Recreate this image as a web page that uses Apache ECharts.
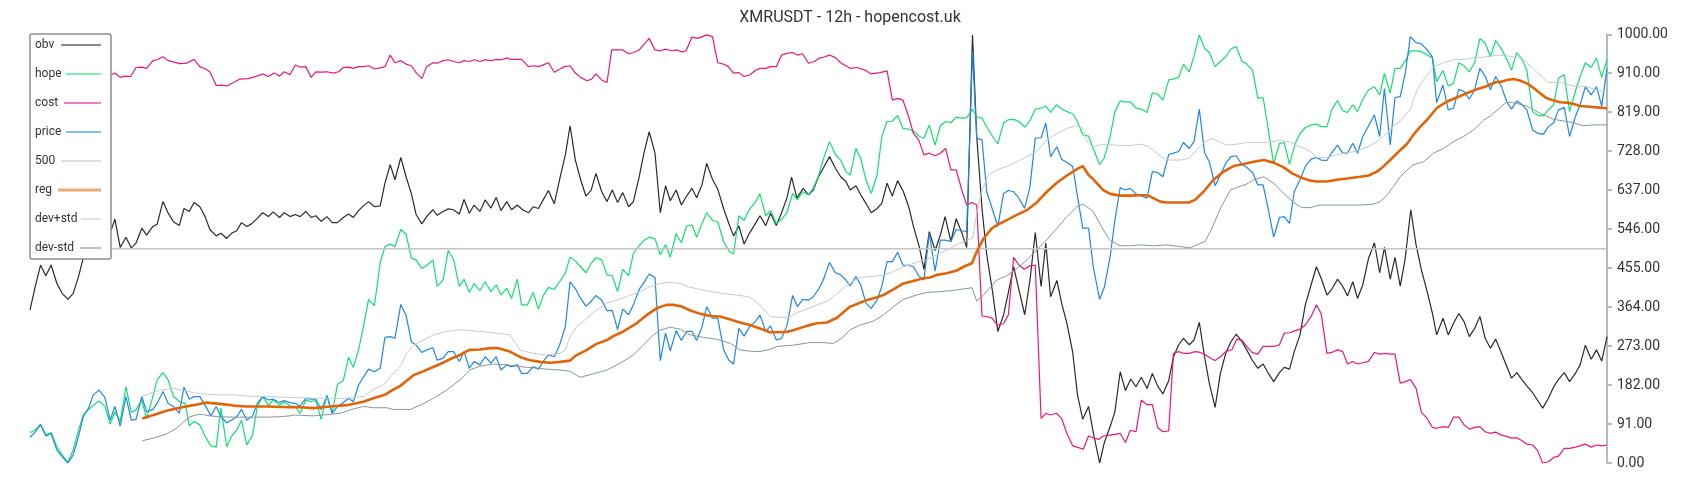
<!DOCTYPE html>
<html>
<head>
<meta charset="utf-8">
<title>XMRUSDT - 12h</title>
<script src="https://cdn.jsdelivr.net/npm/echarts@6.0.0/dist/echarts.min.js"></script>
<style>
  html, body { margin: 0; padding: 0; background: #fff; }
  #main { width: 1700px; height: 500px; }
</style>
</head>
<body>
<div id="main"></div>
<script>
// every series is scaled 0..1000, x is the candle index (0..299)
var obv = [[0,357],[1,412],[2,462],[3,437],[4,462],[5.1,419],[6.1,396],[7.2,382],[8.2,396],[9.2,435],[10,474],[15.4,544],[16.1,569],[17.1,503],[18.2,527],[19.2,502],[20.1,513],[21.2,548],[22.1,532],[23.3,552],[24.1,557],[25.2,610],[26.2,583],[27.2,563],[28.3,554],[29.2,594],[30.2,587],[31.1,608],[32.2,598],[33.2,575],[34.1,545],[35.3,530],[36.2,536],[37.3,524],[38.2,536],[39.2,542],[40.1,561],[41.1,552],[42,558],[43.1,571],[44.1,584],[45.2,575],[46.1,586],[47.3,573],[48.2,584],[49.3,575],[50.3,580],[51.2,575],[52.3,587],[53.3,573],[54.2,577],[55.2,564],[56.3,575],[57.3,561],[58.3,561],[59.4,573],[60.4,581],[61.3,573],[62.3,589],[63.2,600],[64.2,610],[65.3,598],[66.4,600],[67.3,653],[68.3,696],[69.2,661],[70.3,713],[71.3,668],[72.3,629],[73.2,580],[74.3,558],[75.2,575],[76.4,591],[77.2,578],[78.3,587],[79.3,593],[80.3,591],[81.4,581],[82.3,615],[83.3,583],[84.2,602],[85.3,587],[86.3,614],[87.4,595],[88.4,620],[89.3,589],[90.4,610],[91.3,591],[92.4,602],[93.4,591],[94.5,584],[95.4,598],[96.4,594],[97.3,614],[98.3,636],[99.4,605],[100.4,661],[101.5,719],[102.4,787],[103.4,707],[104.4,661],[105.4,623],[106.4,637],[107.3,676],[108.4,633],[109.4,610],[110.4,637],[111.4,608],[112.4,631],[113.5,598],[114.4,610],[115.5,668],[116.4,723],[117.4,773],[118.5,723],[119.5,584],[120.5,647],[121.4,612],[122.5,637],[123.5,602],[124.5,623],[125.5,641],[126.4,619],[127.4,649],[128.3,699],[129.4,662],[130.4,639],[131.5,594],[132.5,559],[133.4,530],[134.4,553],[135.4,511],[136.4,536],[137.5,558],[138.4,577],[139.5,554],[140.4,583],[141.5,554],[142.5,584],[143.5,618],[144.4,667],[145.4,618],[146.6,641],[147.6,626],[148.5,637],[149.5,668],[150.4,688],[151.6,715],[152.7,688],[153.7,668],[154.7,657],[155.5,637],[156.6,647],[157.5,626],[158.5,606],[159.5,584],[160.6,594],[161.5,606],[162.5,653],[163.5,623],[164.5,659],[165.6,633],[166.6,598],[167.5,552],[168.6,505],[169.5,452],[170.5,540],[171.6,496],[172.6,532],[173.5,575],[174.6,517],[175.6,570],[176.7,536],[177.6,503],[178.7,999],[179.5,762],[180.5,594],[181.4,486],[182.5,400],[183.5,307],[184.6,346],[185.5,398],[186.5,458],[187.5,404],[188.6,346],[189.6,427],[190.6,538],[191.7,412],[192.6,513],[193.5,388],[194.7,426],[195.6,373],[196.6,326],[197.7,258],[198.6,159],[199.6,102],[200.7,132],[201.6,71],[202.8,0],[203.7,48],[204.8,85],[205.7,120],[206.7,213],[207.7,169],[208.7,196],[209.7,178],[210.7,200],[211.8,174],[212.8,209],[213.8,180],[214.8,161],[215.9,192],[216.8,248],[217.8,276],[218.7,291],[219.8,276],[220.7,287],[221.7,328],[222.7,248],[223.6,186],[224.7,130],[225.7,209],[226.7,256],[227.7,283],[228.7,301],[229.8,283],[230.7,264],[231.7,241],[232.8,221],[233.8,231],[234.8,209],[235.8,190],[236.9,211],[237.8,223],[238.8,219],[239.7,260],[240.8,299],[241.8,369],[242.9,416],[243.9,458],[244.8,431],[245.9,392],[246.8,405],[247.9,429],[248.9,412],[249.8,390],[250.8,423],[251.7,384],[252.7,416],[253.8,478],[254.9,514],[255.9,444],[256.8,503],[257.9,429],[258.8,480],[259.8,413],[260.7,474],[261.8,591],[262.8,509],[263.8,451],[264.9,400],[265.9,349],[266.7,299],[267.9,338],[268.9,299],[269.9,326],[270.9,349],[271.9,330],[272.9,295],[273.9,314],[274.9,342],[275.9,291],[276.9,268],[277.9,289],[279,256],[280,225],[280.9,198],[281.9,211],[282.9,194],[283.8,180],[284.9,164],[285.8,147],[286.8,128],[287.9,151],[288.9,178],[289.8,195],[290.9,211],[291.9,190],[293,209],[293.9,229],[294.9,275],[296,242],[297,264],[298,238],[299,295]];

var hope = [[0,71],[0.9,76],[2,90],[3,66],[4,71],[5.1,38],[6.1,19],[7.2,1],[8.2,31],[9.2,76],[10.1,112],[11.1,125],[12,135],[13.1,145],[14.2,132],[15.2,91],[16.1,120],[17.1,97],[18.2,178],[19.2,118],[20.1,124],[21.2,147],[22.1,104],[23.3,155],[24.1,194],[25.2,211],[26.2,194],[27.2,155],[28.4,143],[29.4,139],[30.2,87],[31.1,97],[32.2,89],[33.2,62],[34.3,40],[35.3,37],[36.2,128],[37.3,38],[38.2,62],[39.2,77],[40.1,100],[41.1,42],[42.2,65],[43.1,132],[44.1,155],[45.2,135],[46.1,147],[47.3,135],[48.2,143],[49.3,133],[50.3,132],[51.2,116],[52.3,147],[53.3,143],[54.2,146],[55.2,102],[56.3,159],[57.3,116],[58.3,184],[59.4,192],[60.4,247],[61.3,223],[62.3,264],[63.2,318],[64.2,382],[65.3,367],[66.4,468],[67.3,505],[68.3,511],[69.2,505],[70.3,545],[71.3,534],[72.3,478],[73.2,474],[74.3,454],[75.2,461],[76.4,474],[77.2,412],[78.3,427],[79.3,496],[80.3,475],[81.4,412],[82.3,429],[83.3,398],[84.2,419],[85.3,402],[86.3,423],[87.4,400],[88.4,416],[89.3,392],[90.4,408],[91.3,384],[92.4,429],[93.2,369],[94.3,369],[95.4,398],[96.4,359],[97.3,390],[98.3,410],[99.4,405],[100.4,423],[101.5,443],[102.4,481],[103.5,470],[104.4,458],[105.4,444],[106.4,466],[107.3,479],[108.4,474],[109.4,439],[110.4,437],[111.4,400],[112.4,452],[113.5,437],[114.4,489],[115.5,507],[116.4,519],[117.4,527],[118.5,523],[119.5,486],[120.5,510],[121.4,480],[122.5,535],[123.5,514],[124.5,553],[125.5,556],[126.4,527],[127.4,558],[128.3,584],[129.4,566],[130.4,563],[131.5,517],[132.5,495],[133.4,488],[134.4,577],[135.4,566],[136.4,592],[137.5,608],[138.4,628],[139.5,577],[140.4,589],[141.5,559],[142.5,569],[143.5,584],[144.6,629],[145.5,614],[146.5,633],[147.6,626],[148.5,641],[149.5,670],[150.4,709],[151.6,750],[152.7,720],[153.7,707],[154.7,680],[155.5,672],[156.6,734],[157.5,711],[158.5,661],[159.5,629],[160.6,672],[161.5,762],[162.5,797],[163.5,798],[164.5,811],[165.5,781],[166.6,779],[167.5,775],[168.6,762],[169.5,758],[170.5,789],[171.6,742],[172.6,787],[173.6,797],[174.6,794],[175.6,807],[176.7,805],[177.6,806],[178.7,826],[179.5,808],[180.5,805],[181.4,784],[182.5,762],[183.5,745],[184.6,794],[185.5,801],[186.5,802],[187.5,797],[188.6,784],[189.6,799],[190.6,826],[191.7,828],[192.6,833],[193.5,818],[194.6,836],[195.6,826],[196.6,820],[197.7,815],[198.6,797],[199.6,766],[200.7,763],[201.6,734],[202.8,696],[203.7,713],[204.8,762],[205.7,820],[206.7,845],[207.7,842],[208.6,843],[209.7,828],[210.7,826],[211.8,818],[212.8,864],[213.8,861],[214.8,847],[215.9,894],[216.8,896],[217.8,900],[218.7,931],[219.8,913],[220.7,950],[221.7,999],[222.7,968],[223.6,958],[224.7,925],[225.7,937],[226.7,948],[227.7,966],[228.7,972],[229.8,937],[230.7,931],[231.8,917],[232.8,851],[233.8,853],[234.8,777],[235.8,698],[236.9,746],[237.8,748],[238.8,697],[239.9,746],[240.8,769],[241.8,783],[242.9,789],[243.9,791],[244.8,785],[245.9,785],[246.8,824],[247.9,846],[248.9,822],[249.8,818],[250.8,836],[251.7,820],[252.7,849],[253.8,871],[254.9,878],[255.9,859],[256.8,909],[257.9,863],[258.8,921],[259.8,921],[260.8,939],[261.7,962],[262.8,962],[263.8,960],[264.9,952],[265.9,945],[266.7,890],[267.9,916],[268.9,880],[269.9,886],[270.9,934],[271.9,927],[272.9,913],[273.9,934],[274.9,991],[275.9,980],[276.9,948],[277.9,986],[279,966],[280,942],[280.9,917],[281.9,958],[282.9,942],[283.8,917],[284.9,820],[285.8,812],[286.9,810],[287.9,824],[288.9,836],[289.8,898],[290.9,906],[291.9,820],[293,867],[293.9,902],[294.9,934],[296,923],[297,945],[298,900],[299,941]];

var cost = [[0,895],[5,905],[10,900],[15.4,906],[16.1,910],[17.1,900],[18,903],[19.1,902],[20.1,923],[21.2,924],[22.1,921],[23.3,939],[24.1,941],[25.2,948],[26.2,939],[27.2,936],[28.4,932],[29.7,933],[31.1,942],[32.2,925],[33.2,920],[34.1,913],[35.3,881],[36.2,882],[37.3,880],[38.6,888],[39.8,896],[41.4,897],[43,903],[44.2,908],[45.2,902],[46.3,910],[47.3,903],[48.2,913],[49.3,906],[50.3,929],[51.2,924],[52.3,925],[53.3,900],[54.2,913],[55.3,912],[56.3,913],[57.5,910],[58.5,913],[59.4,923],[60.4,924],[61.3,921],[62.3,925],[63.2,925],[64.2,927],[65.3,920],[66.4,922],[67.3,925],[68.3,952],[69.2,934],[70.3,939],[71.3,931],[72.3,927],[73.2,911],[74.3,897],[75.2,925],[76.4,934],[77.2,933],[78.3,939],[79.3,941],[80.3,937],[81.4,934],[82.3,939],[83.3,937],[84.2,941],[85.3,937],[86.3,941],[87.4,939],[88.4,942],[89.3,941],[90.4,945],[91.3,942],[92.4,942],[93.2,942],[94.5,925],[95.4,927],[96.4,925],[97.3,929],[98.3,934],[99.4,912],[100.4,919],[101.3,925],[102.4,927],[103.4,910],[104.4,900],[105.6,892],[106.5,896],[107.3,908],[108.4,894],[109.4,888],[110.3,964],[111.3,964],[112.4,964],[113.5,955],[114.4,958],[115.5,964],[117.4,991],[118.5,964],[119.5,962],[120.5,966],[121.7,962],[122.6,964],[123.6,959],[124.4,962],[125.5,994],[126.6,991],[128.3,999],[129.4,995],[130.4,934],[131.5,931],[132.4,925],[133.4,910],[134.4,911],[135.4,902],[136.5,906],[137.5,916],[138.4,921],[139.5,921],[140.4,925],[141.5,925],[142.5,952],[143.5,956],[144.6,958],[145.5,952],[146.5,955],[147.6,933],[148.7,937],[149.7,945],[150.4,947],[151.6,952],[152.7,946],[153.7,934],[155.5,921],[156.8,923],[158.3,917],[159.5,908],[161.2,911],[162.5,915],[163.5,847],[164.5,851],[165.5,847],[166.6,808],[167.5,769],[168.5,754],[169.5,719],[170.5,723],[171.6,717],[172.6,723],[173.6,734],[174.6,684],[175.6,684],[176.7,636],[177.6,602],[178.6,608],[179.5,602],[180.5,343],[181.4,342],[182.4,338],[183.4,322],[184.6,325],[185.5,346],[186.5,480],[187.5,462],[188.5,452],[189.6,460],[190.6,462],[191.7,104],[192.6,116],[193.5,112],[194.6,116],[195.6,104],[196.6,69],[197.7,40],[198.8,36],[199.7,32],[200.7,63],[201.6,59],[202.6,55],[203.5,63],[204.7,65],[205.7,67],[206.7,69],[207.7,48],[208.6,76],[209.7,73],[210.7,147],[211.8,136],[212.8,136],[213.8,83],[214.8,73],[215.9,75],[216.8,256],[217.8,260],[218.7,256],[219.8,256],[220.9,260],[221.9,258],[222.9,252],[223.9,244],[224.7,239],[225.7,248],[226.7,260],[227.9,265],[228.8,289],[229.8,286],[230.7,272],[231.7,258],[232.8,254],[233.8,272],[234.8,272],[235.9,272],[236.9,276],[237.8,303],[238.8,304],[239.9,309],[240.8,312],[241.8,322],[242.9,342],[243.9,369],[244.8,349],[245.9,256],[246.8,258],[247.9,264],[248.9,260],[249.8,231],[250.8,237],[251.7,231],[252.7,234],[253.8,237],[254.9,258],[255.9,254],[257,256],[257.9,254],[258.8,254],[259.8,186],[260.8,190],[261.7,195],[262.8,174],[263.8,118],[264.9,104],[265.9,83],[266.7,81],[267.9,85],[268.9,83],[269.9,107],[270.9,107],[271.9,89],[272.9,79],[273.9,83],[274.9,85],[275.9,73],[276.9,69],[277.9,72],[279,65],[280,62],[280.9,58],[281.9,59],[282.9,52],[283.8,44],[284.9,42],[285.8,30],[286.8,0],[287.9,3],[288.9,13],[289.8,16],[290.9,34],[291.9,34],[293,37],[293.9,40],[294.9,44],[296,37],[297,42],[298,40],[299,42]];

var price = [[0,60],[0.9,71],[2,90],[3,63],[4,69],[5.1,30],[6.1,15],[7.2,0],[8.2,19],[9.2,62],[10.1,108],[11.1,128],[12,159],[13.1,170],[14.2,153],[15.2,100],[16.1,132],[17.1,86],[18.2,155],[19.2,100],[20.1,102],[21.2,155],[22.1,120],[23.3,125],[24.1,139],[25.2,167],[26.2,139],[27.2,132],[28.3,116],[29.2,177],[30.2,149],[31.1,155],[32.2,155],[33.2,135],[34.3,110],[35.3,132],[36.2,108],[37.3,94],[38.2,100],[39.2,108],[40.1,125],[41.1,100],[42.2,110],[43.1,139],[44.1,155],[45.2,147],[46.1,149],[47.3,141],[48.2,146],[49.3,141],[50.3,139],[51.2,133],[52.3,151],[53.3,149],[54.2,149],[55.2,125],[56.3,155],[57.3,116],[58.3,132],[59.4,141],[60.4,151],[61.3,143],[62.3,182],[63.2,200],[64.2,219],[65.3,213],[66.4,221],[67.3,293],[68.3,295],[69.2,291],[70.3,370],[71.3,345],[72.3,283],[73.2,275],[74.3,258],[75.2,264],[76.4,269],[77.2,240],[78.3,244],[79.3,260],[80.3,260],[81.4,237],[82.3,260],[83.3,221],[84.2,237],[85.3,229],[86.3,248],[87.4,233],[88.4,248],[89.3,217],[90.4,229],[91.3,225],[92.4,229],[93.2,209],[94.3,209],[95.4,225],[96.4,219],[97.3,237],[98.3,252],[99.4,248],[100.4,275],[101.5,318],[102.4,423],[103.5,405],[104.4,384],[105.4,366],[106.4,377],[107.3,391],[108.4,380],[109.4,355],[110.4,356],[111.4,312],[112.4,359],[113.5,346],[114.4,369],[115.5,405],[116.4,421],[117.4,441],[118.5,433],[119.5,239],[120.5,303],[121.4,262],[122.5,309],[123.5,286],[124.5,307],[125.5,307],[126.4,286],[127.4,317],[128.3,365],[129.4,338],[130.4,338],[131.5,265],[132.5,240],[133.4,231],[134.4,314],[135.4,296],[136.4,317],[137.5,330],[138.4,345],[139.5,307],[140.4,320],[141.5,287],[142.5,291],[143.5,320],[144.6,391],[145.5,365],[146.5,382],[147.6,380],[148.5,388],[149.5,405],[150.4,427],[151.6,468],[152.7,444],[153.7,439],[154.7,427],[155.5,413],[156.6,435],[157.5,416],[158.5,373],[159.5,361],[160.6,380],[161.5,412],[162.5,470],[163.5,470],[164.5,492],[165.5,462],[166.6,461],[167.5,458],[168.6,435],[169.5,427],[170.5,536],[171.6,448],[172.6,520],[173.5,520],[174.6,517],[175.6,545],[176.7,542],[177.6,540],[178.7,960],[179.5,758],[180.5,754],[181.4,633],[182.5,591],[183.5,552],[184.6,629],[185.5,636],[186.5,633],[187.5,618],[188.6,594],[189.6,645],[190.6,758],[191.7,759],[192.6,793],[193.5,715],[194.7,738],[195.6,709],[196.6,701],[197.7,692],[198.6,623],[199.6,548],[200.7,548],[201.6,458],[202.8,382],[203.7,410],[204.8,482],[205.7,567],[206.7,643],[207.7,637],[208.6,641],[209.7,628],[210.7,623],[211.8,618],[212.8,680],[213.8,678],[214.8,668],[215.9,720],[216.8,723],[217.8,727],[218.7,748],[219.8,734],[220.7,750],[221.7,826],[222.7,724],[223.6,703],[224.7,647],[225.7,672],[226.7,699],[227.7,715],[228.7,717],[229.8,696],[230.7,690],[231.8,678],[232.8,649],[233.8,649],[234.8,591],[235.8,527],[236.9,573],[237.8,575],[238.8,559],[239.7,633],[240.8,661],[241.8,692],[242.9,709],[243.9,713],[244.8,707],[245.9,706],[246.8,724],[247.9,742],[248.9,723],[249.8,723],[250.8,746],[251.7,723],[252.7,762],[253.8,787],[254.9,812],[255.9,762],[256.8,874],[257.9,742],[258.8,853],[259.8,855],[260.8,913],[261.7,995],[262.8,981],[263.8,978],[264.9,964],[265.9,947],[266.7,841],[267.9,882],[268.9,824],[269.9,828],[270.9,872],[271.9,867],[272.9,849],[273.9,871],[274.9,921],[275.9,903],[276.9,871],[277.9,902],[279,878],[280,843],[280.9,826],[281.9,845],[282.9,836],[283.8,824],[284.9,777],[285.8,770],[286.9,767],[287.9,785],[288.9,794],[289.8,824],[290.9,830],[291.9,762],[293,808],[293.9,836],[294.9,878],[296,859],[297,878],[298,833],[299,921]];

var level = [[0,500],[299,500]];

var reg = [[21.3,104],[23.4,112],[25.9,122],[28.4,129],[31,135],[33.5,141],[36,138],[38.6,134],[41.1,132],[44.9,132],[49.3,130],[51.2,130],[53.7,128],[56.9,132],[60.1,135],[63.2,143],[65.1,151],[67.3,159],[68.3,167],[70.2,180],[71.4,192],[72.7,205],[74,211],[75.9,221],[77.8,231],[79.6,242],[81.5,252],[83.3,264],[85.3,265],[87.2,268],[88.8,268],[91,260],[93,247],[94.8,240],[96.7,236],[98.6,234],[100.5,236],[102.4,239],[103.4,250],[105.6,264],[107.4,278],[109.4,287],[110.6,296],[112.5,307],[115,326],[116.9,345],[118.8,361],[120.7,369],[122,369],[123.6,365],[125.2,356],[127.1,348],[129,343],[130.8,342],[132.8,335],[134.6,328],[136.5,322],[138.4,314],[140.3,305],[141.6,305],[143.5,306],[144.7,310],[147.3,320],[149.2,326],[151.1,328],[153,339],[155.5,365],[156.8,371],[158.6,380],[160.6,387],[161.8,392],[163.7,405],[165.6,419],[167.5,425],[169.4,431],[170.7,433],[171.9,439],[173.8,443],[175.7,449],[177,458],[178.6,466],[179.5,493],[180.8,524],[182.4,548],[183.9,559],[185.2,567],[187.1,579],[189,590],[190.9,608],[192.8,633],[194.7,654],[196.6,671],[198.5,686],[199.6,693],[200.7,672],[201.6,662],[203.5,637],[204.8,628],[206.7,624],[208.6,624],[210.5,625],[211.8,625],[213,618],[214.3,610],[215.5,608],[217.4,608],[219.7,608],[220.9,614],[222.5,633],[224.4,661],[226.3,680],[228.2,693],[230.1,698],[232,703],[233.9,707],[235.8,701],[237.7,690],[239.3,676],[240.8,667],[242.7,659],[244,657],[245.9,657],[247.8,661],[249.7,664],[252.2,668],[253.8,671],[255.4,680],[256.6,692],[257.9,707],[259.8,730],[261.1,745],[262.3,766],[263.6,785],[264.9,801],[266.7,828],[268.6,843],[270.5,853],[272.4,863],[274.3,872],[275.9,878],[277.2,885],[278.1,889],[279.1,890],[280,894],[281.3,896],[282.6,892],[283.8,886],[285.1,875],[286.3,863],[287.6,851],[288.9,846],[290.1,842],[291.4,841],[292.7,838],[293.9,833],[295.2,832],[297.1,830],[299,828]];

var devUp = [[21.3,156],[22.8,163],[24.7,170],[27.2,174],[29.1,170],[31,164],[32.9,161],[35.4,159],[38.6,159],[41.7,156],[44.9,155],[49.3,153],[53.7,151],[57.5,151],[60.1,151],[63.2,155],[65.1,172],[67,182],[68.9,209],[70.2,225],[71.4,256],[72.7,275],[74.6,287],[76.5,299],[79,307],[81.5,311],[85.3,307],[88.5,303],[91,299],[92.9,264],[95.4,256],[97.9,252],[100.5,256],[101.5,264],[102.4,295],[103.7,318],[105.6,338],[107.4,357],[109.4,373],[111.2,380],[113.1,388],[115.7,400],[117.6,412],[119.5,419],[121.4,422],[123.3,419],[124.5,412],[127.1,405],[129.6,399],[132.2,394],[134.6,391],[136.5,387],[138.4,369],[140.3,342],[142.2,340],[144.1,340],[145.4,351],[147.3,359],[149.2,369],[151.1,377],[152.3,388],[154.2,408],[155.5,421],[157.4,433],[159.9,436],[161.8,438],[163.7,447],[165.6,458],[168.1,468],[170,474],[171.9,486],[173.8,497],[175.7,509],[177.6,520],[178.7,524],[179.5,583],[180.5,637],[181.7,672],[183.3,684],[185.2,692],[187.1,703],[189,715],[190.9,727],[192.8,754],[194.7,769],[196.6,781],[198.5,787],[199.4,785],[200.4,750],[201.6,738],[203.5,744],[206.7,741],[208.6,741],[210.5,744],[211.8,740],[213,730],[214.6,713],[216.2,707],[218.1,707],[219.7,711],[221.2,730],[222.8,750],[224.1,758],[225.7,748],[226.9,742],[228.8,744],[230.7,748],[235.1,748],[237,754],[238.9,749],[240.8,738],[242.7,728],[244,713],[245.9,713],[247.8,719],[249.7,724],[251.6,728],[253.5,737],[255.4,750],[257.3,770],[258.5,787],[259.8,798],[261.7,825],[263,871],[264.2,894],[266.1,924],[268,934],[269.9,941],[271.9,942],[273.7,945],[276.2,948],[278.1,952],[280,950],[281.9,947],[283.2,941],[285.1,919],[287,898],[287.9,888],[290.1,888],[292.7,880],[295.2,878],[297.7,868],[299,868]];

var devDown = [[21.3,52],[23.4,58],[25.9,68],[27.8,81],[29.1,96],[30.3,108],[32.2,114],[34.1,110],[36,108],[38.6,107],[44.9,107],[47.4,108],[49.3,110],[50,112],[53.7,110],[55.6,112],[58.8,116],[60.7,124],[63.2,132],[65.1,129],[67.6,129],[68.9,125],[72.1,125],[74,135],[76.5,151],[79,170],[81.5,194],[83.4,217],[85.3,226],[87.9,231],[90.4,229],[92.9,225],[95.4,222],[98,219],[100.5,217],[102.4,214],[104.3,200],[106.8,208],[109.4,217],[111.9,233],[114.4,252],[116.3,275],[118.2,299],[119.5,310],[121.4,317],[123.3,312],[125.2,299],[127.7,293],[130.2,289],[132.8,279],[134.6,264],[136.5,261],[138.4,260],[140.3,265],[141.6,272],[144.7,275],[147.9,281],[150.4,281],[152.3,279],[153.9,291],[155.5,311],[157.4,322],[159.9,331],[161.8,345],[163.7,365],[165.6,382],[168.1,392],[170,398],[172.6,400],[174.5,402],[176.3,405],[178.6,409],[179.5,378],[180.8,392],[183.3,427],[185.2,437],[187.1,454],[189,474],[190.9,497],[192.8,521],[194.7,548],[196.6,575],[198.5,598],[199.7,604],[201.6,587],[203.5,544],[204.8,519],[206.7,507],[208.6,507],[210.5,509],[213,507],[215.5,509],[218.1,505],[220,502],[221.6,511],[222.8,517],[224.1,548],[225.7,594],[227.6,637],[228.8,643],[230.7,651],[232,661],[233.9,668],[235.8,653],[237.7,629],[239.6,608],[241.1,596],[242.7,596],[244.6,602],[252.2,602],[254.7,604],[256,610],[257.3,625],[258.5,645],[259.8,668],[261.1,684],[262.3,696],[264.2,703],[266.1,723],[268,734],[269.9,750],[271.8,762],[273.7,777],[275.6,800],[276.9,810],[278.8,830],[280,843],[281.9,839],[283.8,833],[285.1,824],[287,812],[288.9,802],[290.8,798],[292.7,794],[294.5,787],[296.4,789],[299,789]];

var names = ['obv', 'hope', 'cost', 'price', '500', 'reg', 'dev+std', 'dev-std'];
var yTicks = { min: 0, max: 1000, step: 91 };

// legend swatch: a thin bar of length len, right-aligned in a 44px wide box
function swatch(len, h) {
  var s = 44 - len;
  return 'path://M0,0L0,0M' + s + ',0H44V' + h + 'H' + s + 'Z';
}
var swatchLen = { 'obv': 40, 'hope': 35, 'cost': 37, 'price': 35, '500': 40, 'reg': 43, 'dev+std': 20, 'dev-std': 21 };

function line(name, data, color, width) {
  return {
    name: name,
    type: 'line',
    data: data,
    symbol: 'none',
    smooth: false,
    color: color,
    lineStyle: { color: color, width: width },
    emphasis: { disabled: true }
  };
}

var chart = echarts.init(document.getElementById('main'));
chart.setOption({
  animation: false,
  backgroundColor: '#fff',
  title: {
    text: 'XMRUSDT - 12h - hopencost.uk',
    left: 'center',
    top: 10,
    padding: 0,
    textStyle: { fontFamily: 'Roboto', fontSize: 16, fontWeight: 'normal', color: '#333' }
  },
  legend: {
    data: names.map(function (n) {
      return { name: n, icon: swatch(swatchLen[n], n === 'reg' ? 3 : 2) };
    }),
    orient: 'vertical',
    left: 30,
    top: 34,
    align: 'right',
    padding: [4, 10, 4, 5],
    itemGap: 15,
    itemWidth: 44,
    itemHeight: 14,
    symbolKeepAspect: true,
    backgroundColor: '#fff',
    borderColor: '#8c8c8c',
    borderWidth: 1.5,
    borderRadius: 2,
    itemStyle: { opacity: 0.55, borderWidth: 0 },
    formatter: function (n) { return '{n|' + n + '}'; },
    textStyle: {
      fontFamily: 'Roboto', fontSize: 12, color: '#333', lineHeight: 14,
      rich: { n: { width: 17, align: 'left', fontFamily: 'Roboto', fontSize: 12, color: '#333', lineHeight: 14 } }
    }
  },
  grid: { left: 30, right: 93, top: 34.5, bottom: 37 },
  xAxis: { type: 'value', min: 0, max: 299, show: false },
  yAxis: {
    type: 'value',
    position: 'right',
    min: yTicks.min,
    max: yTicks.max,
    interval: yTicks.step,
    axisLine: { show: true, onZero: false, lineStyle: { color: '#b0bcc3', width: 2 } },
    axisTick: { show: true, length: 5, lineStyle: { color: '#b0bcc3', width: 2 } },
    axisLabel: {
      margin: 10,
      fontFamily: 'Roboto',
      fontSize: 14,
      color: '#333',
      formatter: function (v) { return v.toFixed(2); }
    },
    splitLine: { show: false }
  },
  series: [
    line('obv', obv, '#2b2b2b', 1.2),
    line('hope', hope, '#12e070', 1.2),
    line('cost', cost, '#e8187c', 1.2),
    line('price', price, '#1e88e5', 1.2),
    line('500', level, '#c4c4c4', 1.6),
    line('reg', reg, '#e0650a', 2.6),
    line('dev+std', devUp, '#c3ccd1', 1),
    line('dev-std', devDown, '#8596a0', 1)
  ]
});
</script>
</body>
</html>
